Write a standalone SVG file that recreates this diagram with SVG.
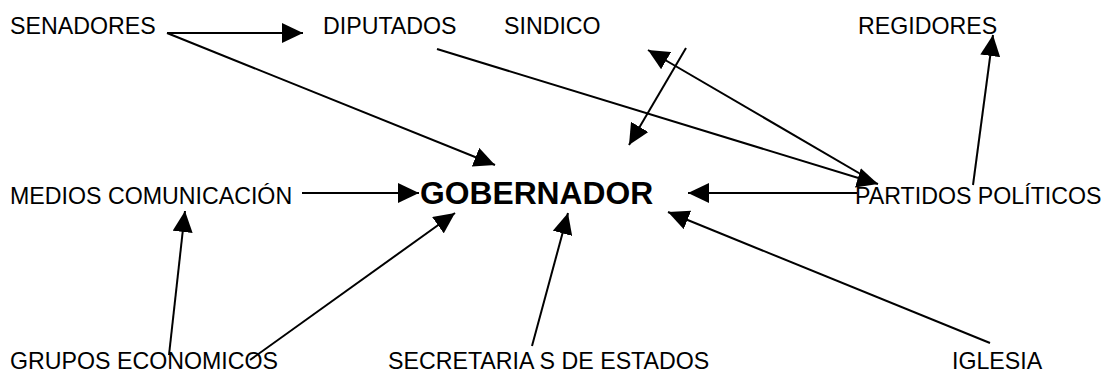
<svg xmlns="http://www.w3.org/2000/svg" width="1109" height="375" viewBox="0 0 1109 375">
<style>
.t{font-family:"Liberation Sans",Arial,sans-serif;font-size:23.2px;fill:#000}
.b{font-family:"Liberation Sans",Arial,sans-serif;font-size:31.8px;font-weight:bold;fill:#000}
.c line{stroke:#000;stroke-width:2;marker-end:url(#ah)}
</style>
<defs>
<marker id="ah" viewBox="0 0 21 20" refX="21" refY="10" markerWidth="21" markerHeight="20" markerUnits="userSpaceOnUse" orient="auto">
<path d="M0,0 L21,10 L0,20 Z" fill="#000"/>
</marker>
</defs>
<rect width="1109" height="375" fill="#fff"/>
<g id="senadores"><text class="t" x="10" y="34">SENADORES</text></g>
<g id="diputados"><text class="t" x="323" y="34">DIPUTADOS</text></g>
<g id="sindico"><text class="t" x="504" y="34">SINDICO</text></g>
<g id="regidores"><text class="t" x="858" y="34">REGIDORES</text></g>
<g id="medios"><text class="t" x="10" y="204">MEDIOS COMUNICACIÓN</text></g>
<g id="gobernador"><text class="b" x="420" y="204">GOBERNADOR</text></g>
<g id="partidos"><text class="t" x="855" y="204">PARTIDOS POLÍTICOS</text></g>
<g id="grupos"><text class="t" x="10" y="369">GRUPOS ECONOMICOS</text></g>
<g id="secretarias"><text class="t" x="388" y="369">SECRETARIA S DE ESTADOS</text></g>
<g id="iglesia"><text class="t" x="952" y="369">IGLESIA</text></g>
<g id="connectors" class="c">
<line x1="167" y1="33" x2="303" y2="33"/>
<line x1="167" y1="33" x2="495" y2="165"/>
<line x1="437" y1="49" x2="878" y2="184"/>
<line x1="686" y1="48" x2="629" y2="145"/>
<line x1="876" y1="183" x2="648" y2="50"/>
<line x1="973" y1="185" x2="993" y2="35"/>
<line x1="857" y1="193" x2="688" y2="193"/>
<line x1="302" y1="193" x2="419" y2="193"/>
<line x1="169" y1="355" x2="185" y2="211"/>
<line x1="250" y1="360" x2="455" y2="213"/>
<line x1="532" y1="346" x2="568" y2="213"/>
<line x1="990" y1="343" x2="668" y2="212"/>
</g>
</svg>
